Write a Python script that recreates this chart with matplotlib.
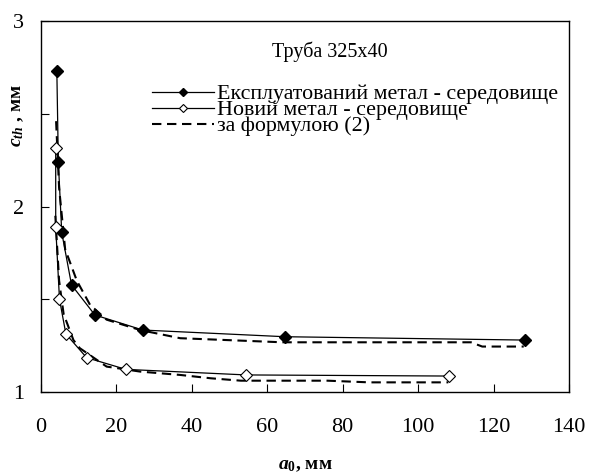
import matplotlib
matplotlib.use('Agg')
import matplotlib.pyplot as plt
from matplotlib.ticker import MultipleLocator

plt.rcParams['font.family'] = ['Liberation Serif', 'DejaVu Serif']
plt.rcParams['mathtext.fontset'] = 'custom'
plt.rcParams['mathtext.bf'] = 'Liberation Serif:italic:bold'
plt.rcParams['mathtext.rm'] = 'Liberation Serif:bold'
plt.rcParams['mathtext.it'] = 'Liberation Serif:italic'

# експлуатований метал - середовище
x_used = [4.2, 4.6, 5.5, 8.1, 14.3, 27.0, 64.7, 128.3]
y_used = [2.73, 2.24, 1.86, 1.577, 1.415, 1.334, 1.298, 1.28]

# новий метал - середовище
x_new = [3.9, 3.9, 4.9, 6.6, 12.1, 22.5, 54.4, 108.2]
y_new = [2.317, 1.891, 1.50, 1.313, 1.185, 1.122, 1.092, 1.086]

# за формулою (2)
x_f1 = [4.0, 4.8, 6.4, 9.5, 13.0, 17.4, 26.3, 36.9, 64.0, 114.0, 117.0, 128.0]
y_f1 = [2.46, 2.10, 1.77, 1.60, 1.47, 1.39, 1.334, 1.29, 1.268, 1.268, 1.245, 1.245]
x_f2 = [3.8, 4.8, 6.0, 8.6, 10.3, 17.4, 26.3, 36.9, 45.0, 53.0, 76.0, 87.0, 108.0]
y_f2 = [1.95, 1.60, 1.42, 1.28, 1.236, 1.137, 1.11, 1.092, 1.074, 1.061, 1.061, 1.052, 1.052]

fig = plt.figure(figsize=(5.89, 4.76), dpi=100)
ax = fig.add_axes([41/589, 1-392/476, 528/589, 371/476])

dash = (0, (4.5, 2.7))
ax.plot(x_f1, y_f1, color='black', lw=1.5, linestyle=dash, label='за формулою (2)')
ax.plot(x_f2, y_f2, color='black', lw=1.5, linestyle=dash)
ax.plot(x_used, y_used, color='black', lw=0.9, marker='D', ms=6,
        mfc='black', mec='black', label='Експлуатований метал - середовище')
ax.plot(x_new, y_new, color='black', lw=0.9, marker='D', ms=6,
        mfc='white', mec='black', mew=0.8, label='Новий метал - середовище')

ax.set_xlim(0, 140)
ax.set_ylim(1, 3)
ax.xaxis.set_major_locator(MultipleLocator(20))
ax.yaxis.set_major_locator(MultipleLocator(1))
ax.yaxis.set_minor_locator(MultipleLocator(0.5))
ax.tick_params(which='both', direction='in', labelsize=16, length=6, width=0.8)
ax.tick_params(axis='x', pad=19)
ax.tick_params(axis='y', pad=12)
for s in ax.spines.values():
    s.set_linewidth(1.0)

handles, labels = ax.get_legend_handles_labels()
order = [1, 2, 0]
ax.legend([handles[i] for i in order], [labels[i] for i in order],
          loc='upper left', bbox_to_anchor=(0.21, 0.83), frameon=False,
          fontsize=15.8, handlelength=2.85, handletextpad=0.14, labelspacing=-0.2,
          markerscale=0.75, borderpad=0, borderaxespad=0)
ax.text(0.547, 0.917, 'Труба 325x40', transform=ax.transAxes, fontsize=14.5,
        ha='center', va='center')

fig.text(305/589, 1-466/476, r'$\mathbf{a}_{\mathrm{0}}$, мм', fontsize=14,
         fontweight='bold', ha='center', va='center')
fig.text(17/589, 1-115/476, r'$\mathbf{c}_{\mathbf{th}}$ , мм', fontsize=14,
         fontweight='bold', ha='center', va='center', rotation=90)

fig.savefig('out.png', dpi=100)
